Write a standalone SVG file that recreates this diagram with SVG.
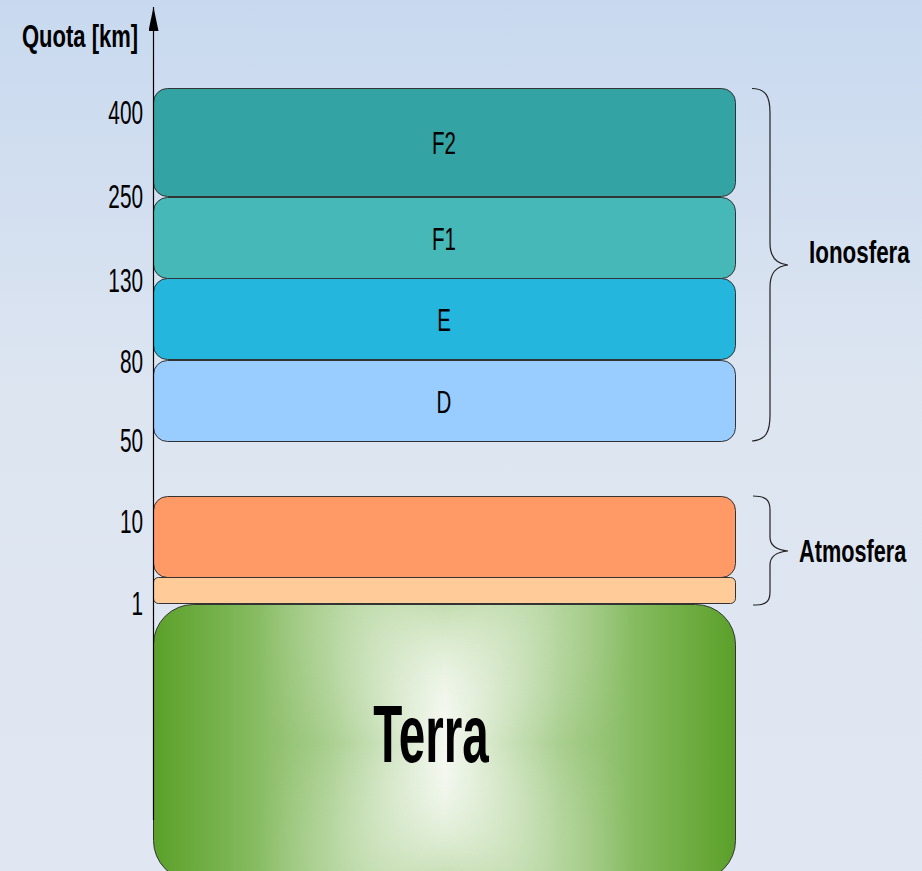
<svg xmlns="http://www.w3.org/2000/svg" width="922" height="871" viewBox="0 0 922 871">
<defs>
<linearGradient id="bg" x1="0" y1="0" x2="0" y2="1">
<stop offset="0" stop-color="#c8d9ef"/>
<stop offset="0.45" stop-color="#dde5f1"/>
<stop offset="1" stop-color="#e0e7f2"/>
</linearGradient>
<linearGradient id="gh" x1="0" y1="0" x2="1" y2="0">
<stop offset="0" stop-color="#5ba02a"/>
<stop offset="0.12" stop-color="#78b34e"/>
<stop offset="0.3" stop-color="#a9cf8f"/>
<stop offset="0.5" stop-color="#f4f8f0"/>
<stop offset="0.7" stop-color="#a9cf8f"/>
<stop offset="0.88" stop-color="#78b34e"/>
<stop offset="1" stop-color="#5ba02a"/>
</linearGradient>
<linearGradient id="gv" x1="0" y1="0" x2="0" y2="1">
<stop offset="0" stop-color="#c2dcae" stop-opacity="1"/>
<stop offset="0.5" stop-color="#ffffff" stop-opacity="0"/>
<stop offset="1" stop-color="#c2dcae" stop-opacity="1"/>
</linearGradient>
<linearGradient id="mh" x1="0" y1="0" x2="1" y2="0">
<stop offset="0.18" stop-color="#000"/>
<stop offset="0.5" stop-color="#fff"/>
<stop offset="0.82" stop-color="#000"/>
</linearGradient>
<mask id="cm" maskUnits="userSpaceOnUse" x="153" y="604" width="583" height="277">
<rect x="153" y="604" width="583" height="277" fill="url(#mh)"/>
</mask>
<marker id="arr" viewBox="0 0 24 10" refX="24" refY="5" markerWidth="24" markerHeight="10" markerUnits="userSpaceOnUse" orient="auto">
<path d="M0,0 L24,5 L0,10 Z" fill="#000"/>
</marker>
</defs>
<style>
.box{stroke:#333;stroke-width:1}
.lbl{font-family:"Liberation Sans",Arial,sans-serif;font-size:32px;fill:#000}
.tick{font-family:"Liberation Sans",Arial,sans-serif;font-size:33px;fill:#000}
.bold{font-family:"Liberation Sans",Arial,sans-serif;font-weight:bold;fill:#000}
.br{fill:none;stroke:#222;stroke-width:1.2}
</style>
<rect x="0" y="0" width="922" height="871" fill="url(#bg)"/>

<g id="terra">
<rect x="153.5" y="604.5" width="582" height="276" rx="40" fill="url(#gh)"/>
<rect x="153.5" y="604.5" width="582" height="276" rx="40" fill="url(#gv)" mask="url(#cm)"/>
<rect x="153.5" y="604.5" width="582" height="276" rx="40" fill="none" stroke="#333" stroke-width="1"/>
<text class="bold" font-size="82" text-anchor="middle" transform="translate(431,762) scale(0.58,1)">Terra</text>
</g>

<g id="F2">
<rect class="box" x="153.5" y="88.5" width="582" height="108" rx="14" fill="#33a3a4"/>
<text class="lbl" text-anchor="middle" transform="translate(444,154) scale(0.64,1)">F2</text>
</g>
<g id="F1">
<rect class="box" x="153.5" y="197.5" width="582" height="81" rx="14" fill="#47b8b8"/>
<text class="lbl" text-anchor="middle" transform="translate(444,250) scale(0.64,1)">F1</text>
</g>
<g id="E">
<rect class="box" x="153.5" y="278.5" width="582" height="81" rx="14" fill="#24b6dc"/>
<text class="lbl" text-anchor="middle" transform="translate(444,331) scale(0.64,1)">E</text>
</g>
<g id="D">
<rect class="box" x="153.5" y="360.5" width="582" height="81" rx="14" fill="#99ccff"/>
<text class="lbl" text-anchor="middle" transform="translate(444,413) scale(0.64,1)">D</text>
</g>
<g id="atm">
<rect class="box" x="153.5" y="496.5" width="582" height="81" rx="14" fill="#ff9966"/>
</g>
<g id="atm-low">
<rect class="box" x="153.5" y="577.5" width="582" height="26" rx="5" fill="#ffcc99"/>
</g>

<g id="connectors">
<line x1="153.5" y1="820" x2="153.5" y2="7" stroke="#000" stroke-width="1.2" marker-end="url(#arr)"/>
<path class="br" d="M752,88.5 C766,89 770,96 770,113 L770,243 C770,256 776,264 788,265 C776,266 770,274 770,287 L770,415 C770,432 766,440 752,441"/>
<path class="br" d="M753,496 C766,496 770,500 770,510 L770,537 C770,546 776,550 788,551 C776,552 770,556 770,565 L770,592 C770,602 766,605 753,605"/>
</g>

<g id="axis-labels">
<text class="bold" font-size="31" transform="translate(22,47) scale(0.71,1)">Quota [km]</text>
<text class="tick" text-anchor="end" transform="translate(143,124) scale(0.63,1)">400</text>
<text class="tick" text-anchor="end" transform="translate(143,208) scale(0.63,1)">250</text>
<text class="tick" text-anchor="end" transform="translate(143,292) scale(0.63,1)">130</text>
<text class="tick" text-anchor="end" transform="translate(143,373) scale(0.63,1)">80</text>
<text class="tick" text-anchor="end" transform="translate(143,452) scale(0.63,1)">50</text>
<text class="tick" text-anchor="end" transform="translate(143,533) scale(0.63,1)">10</text>
<text class="tick" text-anchor="end" transform="translate(143,615) scale(0.63,1)">1</text>
</g>

<g id="group-labels">
<text class="bold" font-size="32" transform="translate(809,263) scale(0.7,1)">Ionosfera</text>
<text class="bold" font-size="31" transform="translate(799,562) scale(0.7,1)">Atmosfera</text>
</g>
</svg>
